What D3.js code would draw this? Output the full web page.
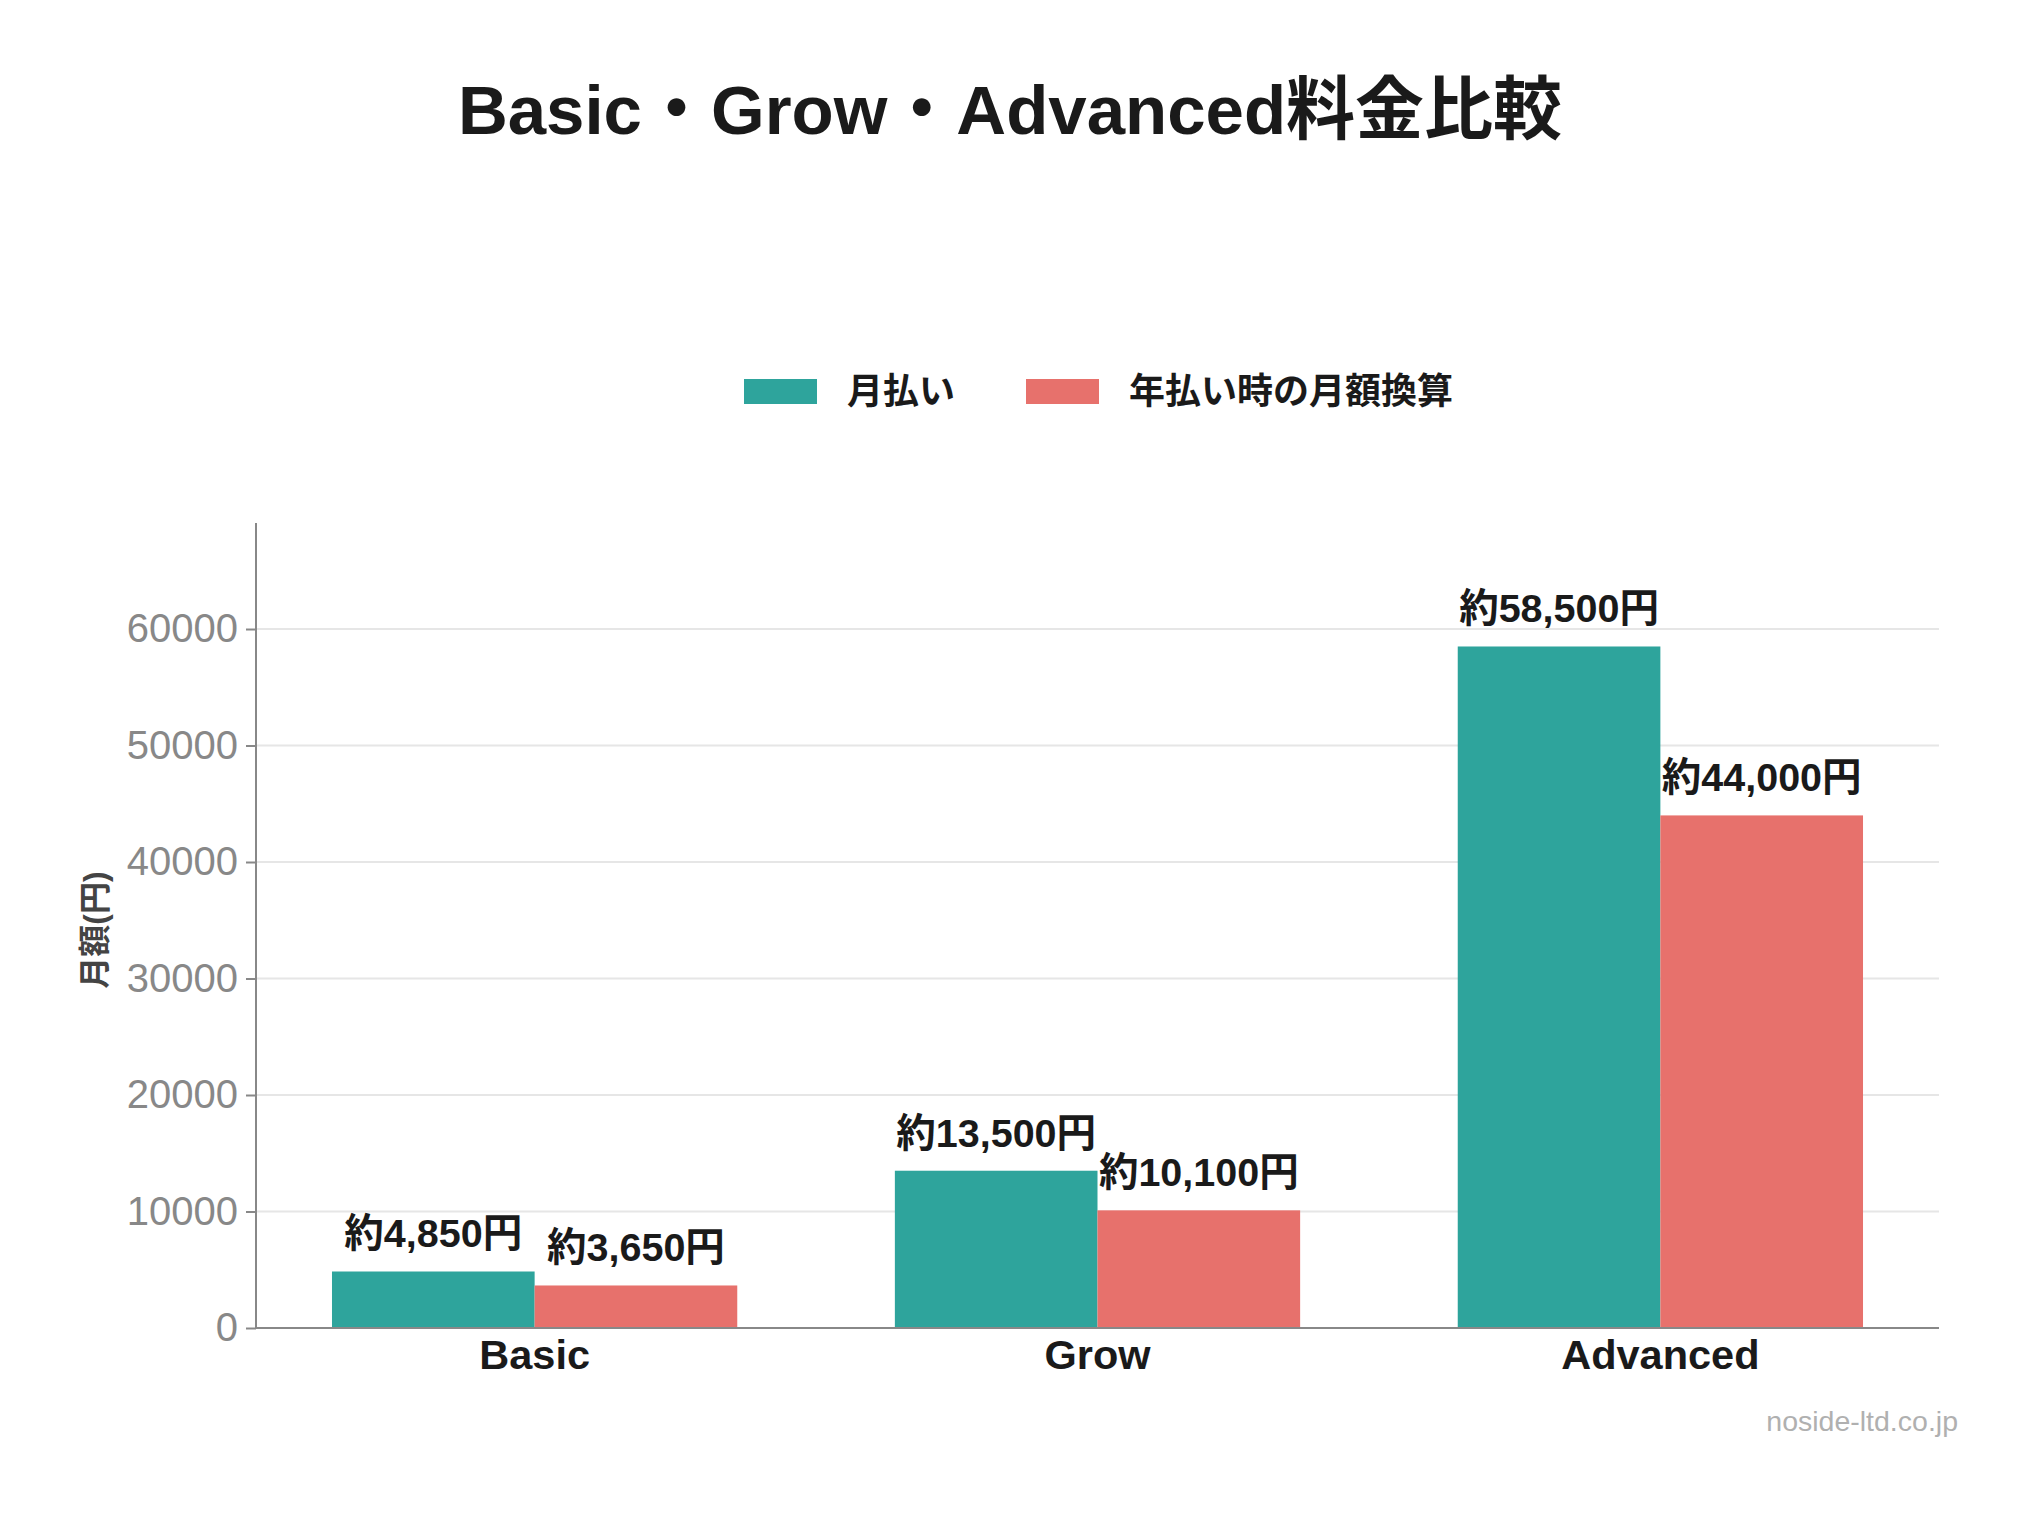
<!DOCTYPE html>
<html>
<head>
<meta charset="utf-8">
<script src="https://cdn.jsdelivr.net/npm/d3@7"></script>
<style>
  html, body { margin: 0; padding: 0; background: #ffffff; }
  svg { display: block; font-family: "Liberation Sans", "Noto Sans CJK JP", sans-serif; }
</style>
</head>
<body>
<svg id="chart" width="2040" height="1516"></svg>
<script>
const categories = ["Basic", "Grow", "Advanced"];
const seriesNames = ["月払い", "年払い時の月額換算"];
const monthlyValues = [4850, 13500, 58500];
const annualMonthlyValues = [3650, 10100, 44000];
const yTicks = [0, 10000, 20000, 30000, 40000, 50000, 60000];
const titleText = "Basic・Grow・Advanced料金比較";
const yAxisTitle = "月額(円)";
const watermark = "noside-ltd.co.jp";
const colors = ["#2ea49c", "#e7716c"];

const W = 2040, H = 1516;
const margin = { top: 523, right: 101, bottom: 188, left: 256 };
const innerW = W - margin.left - margin.right;
const innerH = H - margin.top - margin.bottom;

const svg = d3.select("#chart");
svg.append("rect").attr("width", W).attr("height", H).attr("fill", "#fff");

// Title
svg.append("text")
  .attr("x", 1010).attr("y", 134)
  .attr("text-anchor", "middle")
  .attr("font-size", 69).attr("font-weight", "bold")
  .attr("fill", "#1a1a1a")
  .text(titleText);

const g = svg.append("g").attr("transform", `translate(${margin.left},${margin.top})`);

const x0 = d3.scaleBand().domain(categories).range([0, innerW]).paddingInner(0.28).paddingOuter(0.135);
const x1 = d3.scaleBand().domain([0, 1]).range([0, x0.bandwidth()]);
const y = d3.scaleLinear().domain([0, 69100]).range([innerH, 0]);

// gridlines
g.append("g").selectAll("line").data(yTicks.filter(d => d > 0)).join("line")
  .attr("x1", 0).attr("x2", innerW)
  .attr("y1", d => y(d)).attr("y2", d => y(d))
  .attr("stroke", "#e6e6e6").attr("stroke-width", 2);

// bars
const data = categories.map((c, i) => ({ cat: c, vals: [monthlyValues[i], annualMonthlyValues[i]] }));
const groups = g.append("g").selectAll("g").data(data).join("g")
  .attr("transform", d => `translate(${x0(d.cat)},0)`);

groups.selectAll("rect").data(d => d.vals.map((v, k) => ({ v, k }))).join("rect")
  .attr("x", d => x1(d.k))
  .attr("width", x1.bandwidth())
  .attr("y", d => y(d.v))
  .attr("height", d => innerH - y(d.v))
  .attr("fill", d => colors[d.k]);

groups.selectAll("text").data(d => d.vals.map((v, k) => ({ v, k }))).join("text")
  .attr("x", d => x1(d.k) + x1.bandwidth() / 2)
  .attr("y", d => y(d.v) - 24)
  .attr("text-anchor", "middle")
  .attr("font-size", 39.5).attr("font-weight", "bold")
  .attr("fill", "#1a1a1a")
  .text(d => "約" + d3.format(",")(d.v) + "円");

// y axis
const yAxis = g.append("g")
  .call(d3.axisLeft(y).tickValues(yTicks).tickSize(10).tickPadding(8).tickFormat(d3.format("d")));
yAxis.select(".domain").remove();
yAxis.selectAll(".tick line").attr("stroke", "#888").attr("stroke-width", 2);
yAxis.selectAll(".tick text").attr("font-size", 40).attr("fill", "#888")
  .attr("font-family", "Liberation Sans, sans-serif");
g.append("line").attr("x1", 0).attr("x2", 0).attr("y1", 0).attr("y2", innerH)
  .attr("stroke", "#888").attr("stroke-width", 2);

// x axis
const xAxis = g.append("g").attr("transform", `translate(0,${innerH})`)
  .call(d3.axisBottom(x0).tickSize(0).tickPadding(12));
xAxis.select(".domain").remove();
xAxis.selectAll(".tick text").attr("font-size", 41.5).attr("font-weight", "bold")
  .attr("fill", "#1a1a1a").attr("dy", "0.71em")
  .attr("font-family", "Liberation Sans, sans-serif");
g.append("line").attr("x1", 0).attr("x2", innerW).attr("y1", innerH).attr("y2", innerH)
  .attr("stroke", "#888").attr("stroke-width", 2);

// y axis title
svg.append("text")
  .attr("transform", "translate(106,930) rotate(-90)")
  .attr("text-anchor", "middle")
  .attr("font-size", 32).attr("font-weight", "bold")
  .attr("fill", "#444")
  .text(yAxisTitle);

// legend
const legendItems = [
  { name: seriesNames[0], color: colors[0], rx: 744, tx: 847 },
  { name: seriesNames[1], color: colors[1], rx: 1026, tx: 1129 }
];
const lg = svg.append("g");
lg.selectAll("rect").data(legendItems).join("rect")
  .attr("x", d => d.rx).attr("y", 379).attr("width", 73).attr("height", 25)
  .attr("fill", d => d.color);
lg.selectAll("text").data(legendItems).join("text")
  .attr("x", d => d.tx).attr("y", 404)
  .attr("font-size", 36).attr("font-weight", "bold")
  .attr("fill", "#1a1a1a")
  .text(d => d.name);

// watermark
svg.append("text")
  .attr("x", 1958).attr("y", 1431)
  .attr("text-anchor", "end")
  .attr("font-size", 28.5)
  .attr("fill", "#b0b0b0")
  .text(watermark);
</script>
</body>
</html>
